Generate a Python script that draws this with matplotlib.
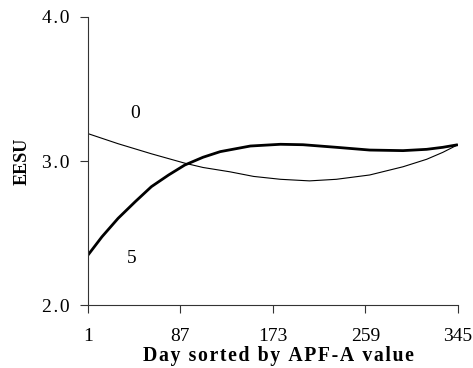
import matplotlib
matplotlib.use("Agg")
import matplotlib.pyplot as plt

# Day index (sorted by APF-A value) and EESU readings for each curve
days_0 = [1, 29, 60, 91, 108, 133, 155, 180, 207, 232, 263, 294, 316, 331, 345]
eesu_0 = [3.19, 3.12, 3.05, 2.985, 2.955, 2.925, 2.893, 2.873, 2.862, 2.873,
          2.903, 2.96, 3.012, 3.06, 3.113]

days_5 = [1, 14, 29, 45, 60, 76, 91, 108, 124, 152, 180, 201, 232, 263, 294,
          316, 331, 345]
eesu_5 = [2.347, 2.474, 2.602, 2.718, 2.822, 2.903, 2.972, 3.026, 3.065, 3.104,
          3.116, 3.113, 3.095, 3.076, 3.072, 3.081, 3.095, 3.113]

x_ticks = [1, 87, 173, 259, 345]
y_ticks = [2.0, 3.0, 4.0]

HAIR = "\u200a"


def spaced(s):
    return HAIR.join(s)


plt.rcParams["font.family"] = ["Liberation Serif", "DejaVu Serif"]

fig = plt.figure(figsize=(4.73, 3.68), dpi=100)
ax = fig.add_axes([0.186, 0.171, 0.782, 0.783])

ax.plot(days_0, eesu_0, color="black", lw=0.8, solid_joinstyle="round")
ax.plot(days_5, eesu_5, color="black", lw=2.0, solid_joinstyle="round",
        solid_capstyle="butt")

ax.text(44.4, 3.297, "0", fontsize=14, ha="center", va="baseline")
ax.text(41.3, 2.29, "5", fontsize=14, ha="center", va="baseline")

ax.set_xlim(1, 345)
ax.set_ylim(2.0, 4.0)
ax.set_xticks(x_ticks)
ax.set_xticklabels([str(t) for t in x_ticks], fontsize=14)
ax.set_yticks(y_ticks)
ax.set_yticklabels([spaced(f"{t:.1f}") for t in y_ticks], fontsize=14)

for side in ("top", "right"):
    ax.spines[side].set_visible(False)
for side in ("left", "bottom"):
    ax.spines[side].set_linewidth(0.8)
    ax.spines[side].set_color("#333333")

ax.tick_params(axis="both", direction="out", length=5.5, width=0.8,
               color="#333333")
ax.tick_params(axis="x", pad=11)
ax.tick_params(axis="y", pad=8)

ax.set_xlabel(spaced("Day sorted by APF-A value"),
              fontsize=14.2, fontweight="bold", labelpad=0.5)
ax.xaxis.label.set_x(0.516)
ax.set_ylabel("EESU", fontsize=13, fontweight="bold", labelpad=8)

fig.savefig("out.png", dpi=100)
